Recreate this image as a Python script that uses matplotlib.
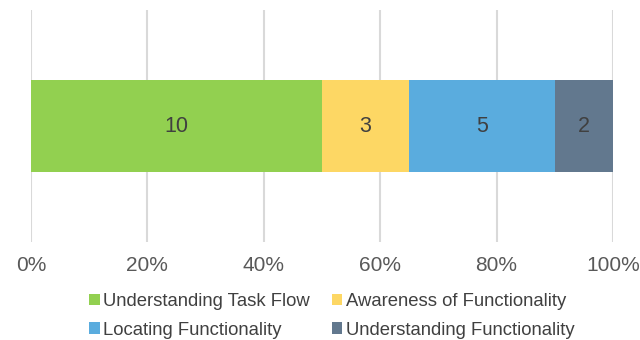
import matplotlib
matplotlib.use("Agg")
import matplotlib.pyplot as plt
from matplotlib.patches import Patch

categories = ["Understanding Task Flow", "Awareness of Functionality",
              "Locating Functionality", "Understanding Functionality"]
counts = [10, 3, 5, 2]
colors = ["#92D050", "#FDD764", "#5AACDE", "#62788E"]
tick_vals = [0, 20, 40, 60, 80, 100]

plt.rcParams["font.family"] = ["Liberation Sans", "DejaVu Sans"]

fig = plt.figure(figsize=(6.4, 3.4), dpi=100)
ax = fig.add_axes([31 / 640, 1 - 242 / 340, (613 - 31) / 640, 232 / 340])

total = sum(counts)
left = 0.0
for cat, n, c in zip(categories, counts, colors):
    w = n / total * 100
    ax.barh(0, w, left=left, height=0.397, color=c, edgecolor="none", zorder=3)
    ax.text(left + w / 2, 0, str(n), ha="center", va="center",
            fontsize=15.5, color="#404040", zorder=4)
    left += w

ax.set_xlim(0, 100)
ax.set_ylim(-0.5, 0.5)
ax.set_xticks(tick_vals)
ax.set_xticklabels([f"{v}%" for v in tick_vals], fontsize=15, color="#595959")
ax.set_yticks([])
ax.tick_params(axis="x", length=0, pad=10)
ax.grid(axis="x", color="#D9D9D9", linewidth=1.5, zorder=0)
for s in ax.spines.values():
    s.set_visible(False)

# legend is filled column-wise, so order entries to read row by row
order = [0, 2, 1, 3]
handles = [Patch(facecolor=colors[i], edgecolor="none") for i in order]
labels = [categories[i] for i in order]
fig.legend(handles, labels, loc="center",
           bbox_to_anchor=(0.5 + 12 / 640, 1 - 316 / 340),
           ncol=2, frameon=False, fontsize=13.3, labelcolor="#404040",
           handlelength=0.55, handleheight=0.55, handletextpad=0.2,
           columnspacing=1.2, labelspacing=0.6)

fig.savefig("out.png", dpi=100)
